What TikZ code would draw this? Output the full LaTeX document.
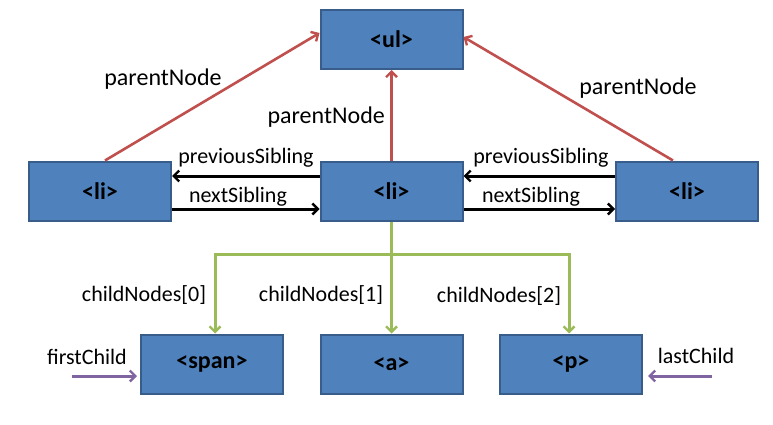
\documentclass[tikz,border=0pt]{standalone}
\usepackage{fontspec}
\setmainfont{Carlito}
\usetikzlibrary{arrows.meta,calc}
\definecolor{boxfill}{HTML}{4F81BD}
\definecolor{boxline}{HTML}{385D8A}
\definecolor{redline}{HTML}{C0504D}
\definecolor{greenline}{HTML}{9BBB59}
\definecolor{purpleline}{HTML}{8064A2}
\begin{document}
\begin{tikzpicture}[x=1pt,y=-1pt,
  elem/.style={draw=boxline, line width=2pt, fill=boxfill, minimum width=142pt, minimum height=59pt, inner sep=0pt, font=\fontsize{24}{28}\selectfont\bfseries},
  lbl/.style={font=\fontsize{22}{26}\selectfont, inner sep=0pt},
  plbl/.style={font=\fontsize{24}{28}\selectfont, inner sep=0pt},
  tip/.style={-{Straight Barb[length=5.5pt,width=11pt,line width=2.4pt]}},
  parent/.style={tip, draw=redline, line width=2.6pt},
  sib/.style={tip, draw=black, line width=3pt},
  child/.style={tip, draw=greenline, line width=3pt},
  edge/.style={tip, draw=purpleline, line width=3pt}]
\useasboundingbox (0,0) rectangle (773,425);
% element boxes
\node[elem] (ul)  at (391.5,39.5) {<ul>};
\node[elem] (li1) at (100,191) {<li>};
\node[elem] (li2) at (391.5,191) {<li>};
\node[elem] (li3) at (687,191) {<li>};
\node[elem] (span) at (212,364) {<span>};
\node[elem] (a)   at (391.5,364) {<a>};
\node[elem] (p)   at (571,364) {<p>};
% parentNode arrows
\draw[parent] ($(li1.north west)+(77,0)$) -- ($(ul.west)+(0,-6.5)$);
\draw[parent] (li2.north) -- (ul.south);
\draw[parent] ($(li3.north west)+(58,0)$) -- ($(ul.east)+(0,-2.5)$);
\node[plbl] (pn1) at (163,79) {parentNode};
\node[plbl, anchor=east] (pn2) at (385,117) {parentNode};
\node[plbl] (pn3) at (638,88) {parentNode};
% sibling arrows
\draw[sib] ($(li2.west)+(0,-15)$) -- ($(li1.east)+(0,-15)$);
\draw[sib] ($(li1.east)+(0,18)$) -- ($(li2.west)+(0,18)$);
\draw[sib] ($(li3.west)+(0,-15)$) -- ($(li2.east)+(0,-15)$);
\draw[sib] ($(li2.east)+(0,18)$) -- ($(li3.west)+(0,18)$);
\node[lbl] (ps1) at (246,158) {previousSibling};
\node[lbl] (ns1) at (238,197) {nextSibling};
\node[lbl] (ps2) at (541,158) {previousSibling};
\node[lbl] (ns2) at (531,197) {nextSibling};
% childNodes
\coordinate (j) at (391.5,254);
\draw[child] (li2.south) -- (a.north);
\draw[child] (j) -| ($(span.north)+(3,0)$);
\draw[child] (j) -| ($(p.north)+(-2,0)$);
\node[lbl] (c0) at (144,295) {childNodes[0]};
\node[lbl] (c1) at (321,295) {childNodes[1]};
\node[lbl] (c2) at (499,296) {childNodes[2]};
% first / last child
\coordinate (fcs) at (72,376);
\coordinate (lcs) at (712,376);
\draw[edge] (fcs) -- ($(span.west)+(-3,12)$);
\draw[edge] (lcs) -- ($(p.east)+(5,12)$);
\node[lbl] (fc) at (87,357) {firstChild};
\node[lbl] (lc) at (696,356) {lastChild};
\end{tikzpicture}
\end{document}
